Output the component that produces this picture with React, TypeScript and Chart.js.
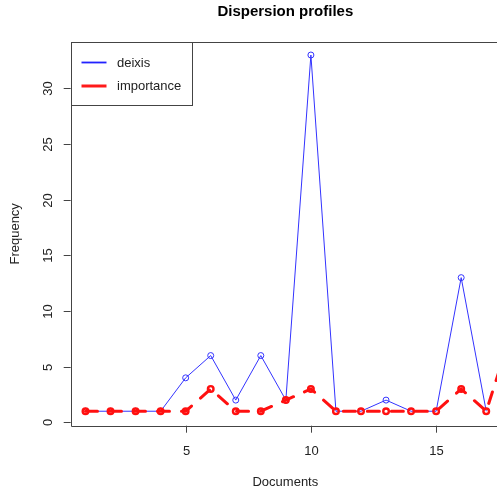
import React, { useEffect, useRef } from "react";
import { Chart, registerables } from "chart.js";

Chart.register(...registerables);

const documents = [1, 2, 3, 4, 5, 6, 7, 8, 9, 10, 11, 12, 13, 14, 15, 16, 17, 18];
const deixis = [1, 1, 1, 1, 4, 6, 2, 6, 2, 33, 1, 1, 2, 1, 1, 13, 1, null];
const importance = [1, 1, 1, 1, 1, 3, 1, 1, 2, 3, 1, 1, 1, 1, 1, 3, 1, 8];
const xTicks = [5, 10, 15];
const yTicks = [0, 5, 10, 15, 20, 25, 30];
const seriesNames = ["deixis", "importance"];

const FONT = "'Liberation Sans', Arial, sans-serif";

const overlay = {
  id: "rbase",
  afterDraw(chart: any) {
    const ctx = chart.ctx as CanvasRenderingContext2D;
    const a = chart.chartArea;
    const xs = chart.scales.x;
    const ys = chart.scales.y;
    ctx.save();
    // frame
    ctx.strokeStyle = "#444";
    ctx.lineWidth = 1;
    ctx.beginPath();
    ctx.moveTo(a.right + 5, Math.round(a.top) + 0.5);
    ctx.lineTo(Math.round(a.left) + 0.5, Math.round(a.top) + 0.5);
    ctx.lineTo(Math.round(a.left) + 0.5, Math.round(a.bottom) + 0.5);
    ctx.lineTo(a.right + 5, Math.round(a.bottom) + 0.5);
    ctx.stroke();
    // x ticks
    ctx.fillStyle = "#222";
    ctx.font = `13px ${FONT}`;
    ctx.textAlign = "center";
    ctx.textBaseline = "alphabetic";
    xTicks.forEach((t) => {
      const px = Math.round(xs.getPixelForValue(t)) + 0.5;
      ctx.beginPath();
      ctx.moveTo(px, a.bottom);
      ctx.lineTo(px, a.bottom + 7);
      ctx.stroke();
      ctx.fillText(String(t), px, 454.5);
    });
    // y ticks
    yTicks.forEach((t) => {
      const py = Math.round(ys.getPixelForValue(t)) + 0.5;
      ctx.beginPath();
      ctx.moveTo(a.left - 7, py);
      ctx.lineTo(a.left, py);
      ctx.stroke();
      ctx.save();
      ctx.translate(51.5, py);
      ctx.rotate(-Math.PI / 2);
      ctx.fillText(String(t), 0, 0);
      ctx.restore();
    });
    // axis titles
    ctx.fillText("Documents", (a.left + 500) / 2, 485.5);
    ctx.save();
    ctx.translate(19, (a.top + a.bottom) / 2);
    ctx.rotate(-Math.PI / 2);
    ctx.fillText("Frequency", 0, 0);
    ctx.restore();
    // main title
    ctx.fillStyle = "#000";
    ctx.font = `bold 15px ${FONT}`;
    ctx.fillText("Dispersion profiles", (a.left + 500) / 2, 15.5);
    // legend
    const lx = Math.round(a.left) + 0.5;
    const ly = Math.round(a.top) + 0.5;
    ctx.fillStyle = "#fff";
    ctx.fillRect(lx, ly, 121, 63);
    ctx.strokeStyle = "#444";
    ctx.lineWidth = 1;
    ctx.strokeRect(lx, ly, 121, 63);
    const items = [
      { name: seriesNames[0], color: "#2222ff", w: 1.8, y: 62.5 },
      { name: seriesNames[1], color: "#ff1a1a", w: 3, y: 86 },
    ];
    ctx.font = `13px ${FONT}`;
    ctx.textAlign = "left";
    ctx.textBaseline = "middle";
    items.forEach((it) => {
      ctx.strokeStyle = it.color;
      ctx.lineWidth = it.w;
      ctx.beginPath();
      ctx.moveTo(81.5, it.y);
      ctx.lineTo(106.5, it.y);
      ctx.stroke();
      ctx.fillStyle = "#222";
      ctx.fillText(it.name, 117, it.y + 0.5);
    });
    ctx.restore();
  },
};

export default function App() {
  const ref = useRef<HTMLCanvasElement | null>(null);
  useEffect(() => {
    if (!ref.current) return;
    const chart = new Chart(ref.current, {
      type: "line",
      data: {
        datasets: [
          {
            label: seriesNames[0],
            data: documents.map((d, i) => ({ x: d, y: deixis[i] })) as any,
            borderColor: "#3333ff",
            borderWidth: 1,
            pointStyle: "circle",
            pointRadius: 3,
            pointBorderWidth: 1,
            pointBorderColor: "#3333ff",
            pointBackgroundColor: "rgba(0,0,0,0)",
            spanGaps: false,
            order: 2,
          },
          {
            label: seriesNames[1],
            data: documents.map((d, i) => ({ x: d, y: importance[i] })) as any,
            borderColor: "#ff1010",
            borderWidth: 3,
            borderDash: [12, 12],
            borderCapStyle: "round",
            pointRadius: 2.8,
            pointBorderWidth: 2.4,
            pointBorderColor: "#ff1010",
            pointBackgroundColor: "rgba(0,0,0,0)",
            order: 1,
          },
        ],
      },
      options: {
        animation: false,
        responsive: false,
        layout: { autoPadding: false, padding: { left: 70.7, top: 42, right: 0, bottom: 66.3 } },
        plugins: { legend: { display: false }, title: { display: false }, tooltip: { enabled: false } },
        scales: {
          x: { type: "linear", display: false, min: 0.41, max: 17.43 },
          y: { type: "linear", display: false, min: -0.3, max: 34.17 },
        },
      },
      plugins: [overlay],
    });
    return () => chart.destroy();
  }, []);
  return (
    <div style={{ position: "fixed", left: 0, top: 0, width: 497, height: 492, background: "#fff" }}>
      <canvas ref={ref} width={497} height={492} style={{ width: 497, height: 492 }} />
    </div>
  );
}
